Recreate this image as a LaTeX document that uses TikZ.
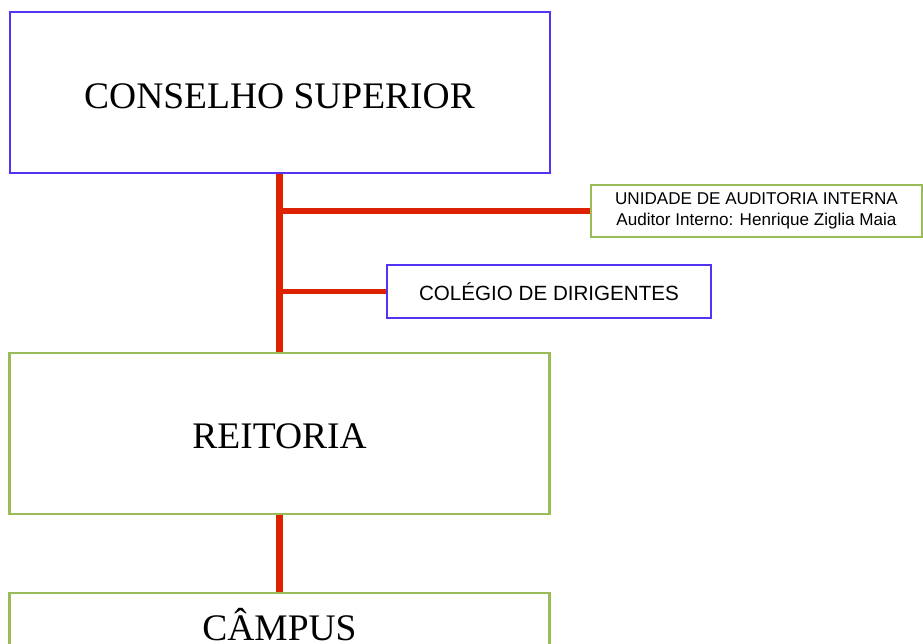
\documentclass[tikz,border=0pt]{standalone}
\usepackage{fontspec}
\setmainfont{Liberation Serif}
\newfontfamily\arialfont{Liberation Sans}
\definecolor{bluebox}{HTML}{5533F5}
\definecolor{greenbox}{HTML}{9BBB59}
\definecolor{redline}{HTML}{DD2200}
\tikzset{
  bigbox/.style={draw, inner sep=0pt, minimum width=540pt, minimum height=161pt,
    font=\fontsize{37.5}{45}\selectfont},
  bluestyle/.style={draw=bluebox, line width=2pt},
  greenstyle/.style={draw=greenbox, line width=2.4pt},
  smallbox/.style={draw, inner sep=0pt, align=center},
  trunk/.style={draw=redline, line width=7.5pt},
  branch/.style={draw=redline, line width=5.5pt},
}
\begin{document}
\begin{tikzpicture}[x=1pt, y=-1pt]
\useasboundingbox (0,0) rectangle (923,644);
\clip (0,0) rectangle (923,644);
\node[bigbox, bluestyle, text height=31pt, text depth=0pt] (cons) at (279.5,93) {CONSELHO SUPERIOR};
\node[bigbox, greenstyle, text height=30pt, text depth=0pt] (reit) at (279.5,433.5) {REITORIA};
\node[bigbox, greenstyle, minimum height=64pt] (camp) at (279.5,625) {CÂMPUS};
\node[smallbox, greenstyle, minimum width=331pt, minimum height=52pt,
  font=\arialfont\fontsize{17.1}{20.5}\selectfont] (unid) at (756.5,211)
  {UNIDADE DE AUDITORIA INTERNA\\Auditor Interno: Henrique Ziglia Maia};
\node[smallbox, bluestyle, minimum width=324pt, minimum height=53pt,
  font=\arialfont\fontsize{20.6}{24}\selectfont] (coleg) at (549,291.5)
  {COLÉGIO DE DIRIGENTES};
\draw[trunk] (cons.south) -- (reit.north);
\draw[trunk] (reit.south) -- (camp.north);
\draw[branch] (cons.south |- unid.west) -- (unid.west);
\draw[branch] (cons.south |- coleg.west) -- (coleg.west);
\end{tikzpicture}
\end{document}
